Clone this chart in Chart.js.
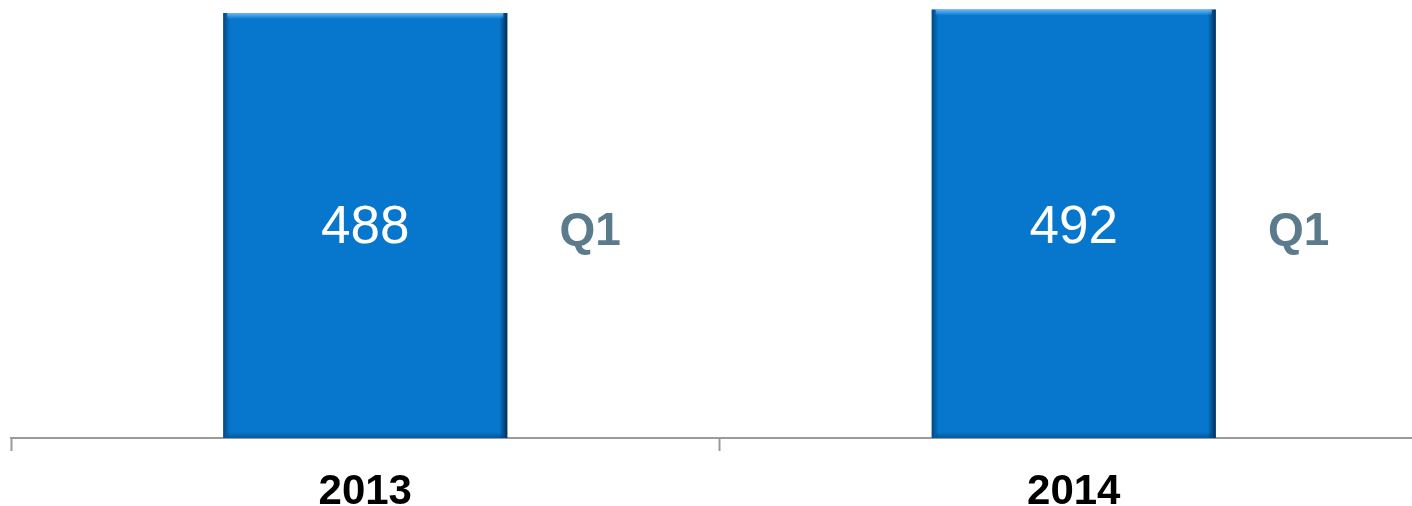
<!DOCTYPE html>
<html>
<head>
<meta charset="utf-8">
<script src="https://cdn.jsdelivr.net/npm/chart.js@4/dist/chart.umd.min.js"></script>
<style>
  html, body { margin: 0; padding: 0; background: #fff; overflow: hidden; }
  #wrap { width: 1428px; height: 506px; position: relative; }
</style>
</head>
<body>
<div id="wrap"><canvas id="chart"></canvas></div>
<script>
// two years, one quarter each
const years = ["2013", "2014"];
const q1Values = [488, 492];
const quarterTag = "Q1";

const BAR_BLUE = "#0677cc";

// bevel edges + value text + the "Q1" tag beside each bar
const barDecor = {
  id: "barDecor",
  afterDatasetsDraw(chart) {
    const ctx = chart.ctx;
    const meta = chart.getDatasetMeta(0);
    meta.data.forEach((bar, i) => {
      const { x, y, base, width } = bar.getProps(["x", "y", "base", "width"], true);
      const l = x - width / 2, r = x + width / 2;
      ctx.save();
      // left dark edge
      let g = ctx.createLinearGradient(l, 0, l + 7, 0);
      g.addColorStop(0, "rgba(0,30,70,0.55)");
      g.addColorStop(1, "rgba(0,30,70,0)");
      ctx.fillStyle = g;
      ctx.fillRect(l, y, 7, base - y);
      // right dark edge
      g = ctx.createLinearGradient(r - 8, 0, r, 0);
      g.addColorStop(0, "rgba(0,20,50,0)");
      g.addColorStop(1, "rgba(0,20,50,0.75)");
      ctx.fillStyle = g;
      ctx.fillRect(r - 8, y, 8, base - y);
      // top highlight
      g = ctx.createLinearGradient(0, y, 0, y + 6);
      g.addColorStop(0, "rgba(120,190,255,0.9)");
      g.addColorStop(1, "rgba(120,190,255,0)");
      ctx.fillStyle = g;
      ctx.fillRect(l + 4, y, width - 8, 6);
      // bottom shade
      g = ctx.createLinearGradient(0, base - 6, 0, base);
      g.addColorStop(0, "rgba(0,30,70,0)");
      g.addColorStop(1, "rgba(0,30,70,0.35)");
      ctx.fillStyle = g;
      ctx.fillRect(l + 4, base - 6, width - 8, 6);

      ctx.textAlign = "center";
      ctx.textBaseline = "middle";
      ctx.fillStyle = "#ffffff";
      ctx.font = "53px 'Liberation Sans', Arial, sans-serif";
      ctx.fillText(String(q1Values[i]), x, 228);

      ctx.fillStyle = "#5b7b8d";
      ctx.font = "bold 46px 'Liberation Sans', Arial, sans-serif";
      ctx.fillText(quarterTag, x + 225, 232);
      ctx.restore();
    });
  }
};

new Chart(document.getElementById("chart"), {
  type: "bar",
  data: {
    labels: years,
    datasets: [{
      data: q1Values,
      backgroundColor: BAR_BLUE,
      borderWidth: 0,
      barPercentage: 0.401,
      categoryPercentage: 1,
    }],
  },
  options: {
    responsive: true,
    maintainAspectRatio: false,
    animation: false,
    layout: { padding: { left: 11, right: 0, top: 0, bottom: 0 } },
    plugins: { legend: { display: false }, tooltip: { enabled: false } },
    scales: {
      x: {
        grid: {
          offset: true,
          drawOnChartArea: false,
          drawTicks: true,
          tickLength: 13,
          tickWidth: 2,
          tickColor: "#9a9a9a",
        },
        border: { display: true, color: "#9a9a9a", width: 2 },
        ticks: {
          color: "#000",
          font: { family: "'Liberation Sans', Arial, sans-serif", size: 42, weight: "bold" },
          padding: 16,
          maxRotation: 0,
        },
        afterFit(scale) { scale.height = 68; },
      },
      y: {
        display: false,
        min: 0,
        max: 503,
      },
    },
  },
  plugins: [barDecor],
});
</script>
</body>
</html>
